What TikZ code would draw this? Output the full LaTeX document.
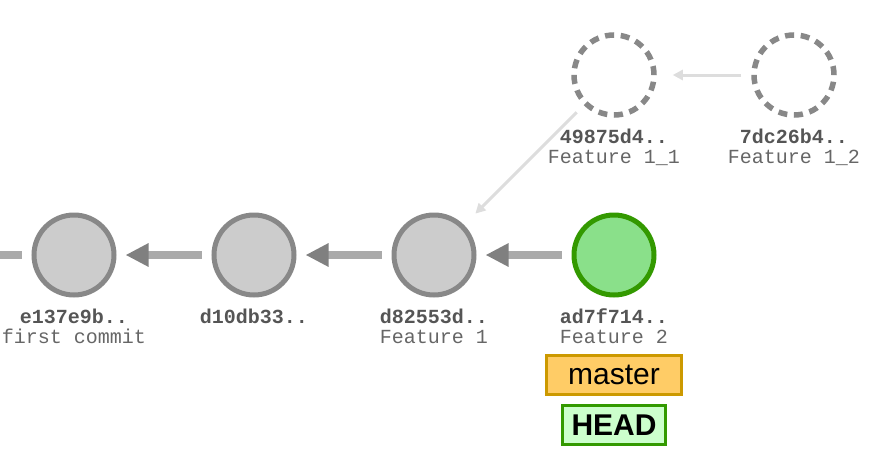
\documentclass[tikz,border=0pt]{standalone}
\usepackage{fontspec}
\setmainfont{Liberation Sans}
\setmonofont{Liberation Mono}
\usetikzlibrary{arrows.meta}
\definecolor{cfill}{HTML}{CCCCCC}
\definecolor{cstroke}{HTML}{888888}
\definecolor{gfill}{HTML}{8AE08A}
\definecolor{gstroke}{HTML}{339900}
\definecolor{linkc}{HTML}{AAAAAA}
\definecolor{tipc}{HTML}{808080}
\definecolor{faint}{HTML}{DDDDDD}
\definecolor{hashc}{HTML}{555555}
\definecolor{msgc}{HTML}{666666}
\definecolor{mfill}{HTML}{FFCC66}
\definecolor{mstroke}{HTML}{CC9900}
\definecolor{hfill}{HTML}{CCFFCC}
\tikzset{
  commit/.style={circle, minimum size=80pt, inner sep=0pt, line width=5pt, draw=cstroke, fill=cfill},
  headcommit/.style={commit, draw=gstroke, fill=gfill},
  ghost/.style={circle, minimum size=80pt, inner sep=0pt, line width=5.5pt, draw=cstroke, dash pattern=on 9pt off 6.7pt},
  parent/.style={draw=linkc, line width=8pt, -{Triangle[length=23pt,width=22pt,color=tipc]}, shorten <=10pt, shorten >=9pt},
  faintlink/.style={draw=faint, line width=3pt, -{Triangle[length=10pt,width=10pt]}, shorten <=10pt, shorten >=16pt},
  hash/.style={anchor=base, font=\ttfamily\bfseries\fontsize{20}{20}\selectfont, text=hashc, inner sep=0pt},
  msg/.style={anchor=base, font=\ttfamily\fontsize{20}{20}\selectfont, text=msgc, inner sep=0pt},
  branchbox/.style={draw=mstroke, fill=mfill, line width=3pt, minimum width=135pt, minimum height=39pt, inner sep=0pt, font=\fontsize{30}{30}\selectfont},
  headbox/.style={draw=gstroke, fill=hfill, line width=3pt, minimum width=103pt, minimum height=39pt, inner sep=0pt, font=\bfseries\fontsize{30}{30}\selectfont}
}
\begin{document}
\begin{tikzpicture}[x=1pt,y=-1pt]
\useasboundingbox (0,0) rectangle (884,461);
\coordinate (leftend) at (0,255);
\node[commit] (c1) at (74,255) {};
\node[commit] (c2) at (254,255) {};
\node[commit] (c3) at (434,255) {};
\node[headcommit] (c4) at (614,255) {};
\node[ghost] (g1) at (614,75) {};
\node[ghost] (g2) at (794,75) {};
\draw[draw=linkc, line width=8pt, shorten >=10pt] (leftend) -- (c1);
\draw[parent] (c2) -- (c1);
\draw[parent] (c3) -- (c2);
\draw[parent] (c4) -- (c3);
\draw[faintlink] (g2) -- (g1);
\draw[faintlink] (g1) -- (c3);
\node[hash] (h1) at (74,323) {e137e9b..};
\node[msg] (m1) at (74,343) {first commit};
\node[hash] (h2) at (254,323) {d10db33..};
\node[hash] (h3) at (434,323) {d82553d..};
\node[msg] (m3) at (434,343) {Feature 1};
\node[hash] (h4) at (614,323) {ad7f714..};
\node[msg] (m4) at (614,343) {Feature 2};
\node[hash] (h5) at (614,143) {49875d4..};
\node[msg] (m5) at (614,163) {Feature 1\_1};
\node[hash] (h6) at (794,143) {7dc26b4..};
\node[msg] (m6) at (794,163) {Feature 1\_2};
\node[branchbox] (master) at (614,375) {master};
\node[headbox] (head) at (614,425) {HEAD};
\end{tikzpicture}
\end{document}
